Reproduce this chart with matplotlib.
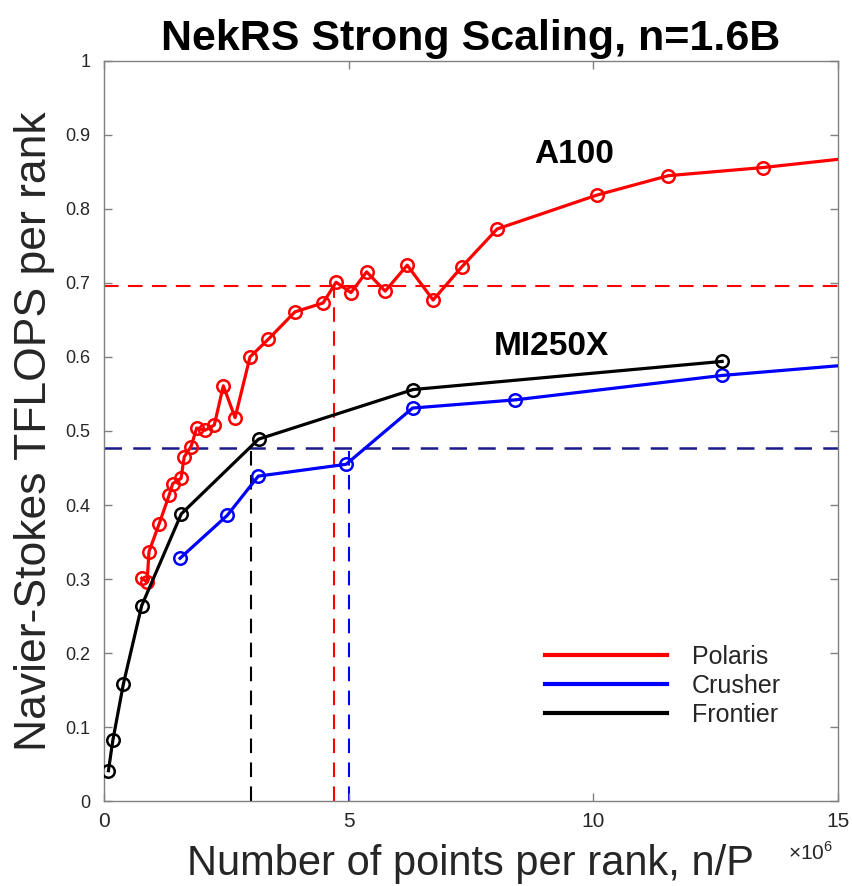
import matplotlib
matplotlib.use('Agg')
import matplotlib.pyplot as plt

plt.rcParams['font.family'] = ['Liberation Sans', 'DejaVu Sans']
plt.rcParams['mathtext.fontset'] = 'custom'
plt.rcParams['mathtext.rm'] = 'Liberation Sans'

# Polaris (A100)
polaris_x = [0.77, 0.88, 0.92, 1.13, 1.335, 1.405, 1.575, 1.64, 1.78, 1.895, 2.065, 2.255,
             2.44, 2.68, 2.985, 3.36, 3.905, 4.48, 4.745, 5.05, 5.37, 5.75, 6.2, 6.73,
             7.32, 8.04, 10.09, 11.54, 13.48, 16.8]
polaris_y = [0.301, 0.296, 0.337, 0.375, 0.414, 0.429, 0.436, 0.465, 0.479, 0.504, 0.501, 0.508,
             0.561, 0.518, 0.600, 0.624, 0.661, 0.673, 0.701, 0.687, 0.715, 0.689, 0.724, 0.677,
             0.722, 0.773, 0.819, 0.845, 0.856, 0.880]

# Crusher (MI250X)
crusher_x = [1.554, 2.52, 3.155, 4.95, 6.31, 8.4, 12.63, 16.8]
crusher_y = [0.328, 0.386, 0.439, 0.455, 0.531, 0.542, 0.575, 0.598]

# Frontier (MI250X)
frontier_x = [0.09, 0.18, 0.395, 0.77, 1.58, 3.16, 6.32, 12.64]
frontier_y = [0.041, 0.082, 0.158, 0.264, 0.388, 0.489, 0.556, 0.594]

# reference levels
polaris_ref = (4.7, 0.696)
crusher_ref = (5.0, 0.477)
frontier_ref = (3.0, 0.477)

fig = plt.figure(figsize=(8.52, 8.86), dpi=100)
ax = fig.add_axes([0.1221, 0.0959, 0.8609, 0.8353])

# dashed guides
dash = (0, (7, 4.5))
ax.axhline(polaris_ref[1], color='red', lw=1.5, ls=dash, zorder=1)
ax.plot([polaris_ref[0], polaris_ref[0]], [0, polaris_ref[1]], color='red', lw=1.5, ls=dash, zorder=1)
ax.axhline(crusher_ref[1], color='#1a1a8c', lw=1.8, ls=dash, zorder=1)
ax.plot([crusher_ref[0], crusher_ref[0]], [0, crusher_ref[1]], color='blue', lw=1.5, ls=dash, zorder=1)
ax.plot([frontier_ref[0], frontier_ref[0]], [0, frontier_ref[1]], color='black', lw=1.5, ls=dash, zorder=1)

mk = dict(marker='o', markersize=9, markerfacecolor='none', markeredgewidth=1.8, lw=2.3)
ax.plot(polaris_x, polaris_y, color='red', label='Polaris', zorder=3, **mk)
ax.plot(crusher_x, crusher_y, color='blue', label='Crusher', zorder=3, **mk)
ax.plot(frontier_x, frontier_y, color='black', label='Frontier', zorder=4, **mk)

ax.set_xlim(0, 15)
ax.set_ylim(0, 1)
ax.set_xticks([0, 5, 10, 15])
ax.set_yticks([i / 10 for i in range(11)])
ax.set_yticklabels(['0', '0.1', '0.2', '0.3', '0.4', '0.5', '0.6', '0.7', '0.8', '0.9', '1'])
ax.tick_params(direction='in', top=True, right=True, length=6, width=1, color='#808080',
               labelcolor='#262626', labelsize=13, pad=10)
ax.tick_params(axis='x', labelsize=15, pad=8)
for s in ax.spines.values():
    s.set_color('#808080')
    s.set_linewidth(1)

ax.set_title('NekRS Strong Scaling, n=1.6B', fontsize=31, fontweight='bold', pad=8)
ax.set_ylabel('Navier-Stokes TFLOPS per rank', fontsize=32, color='#262626', labelpad=7)
ax.set_xlabel('Number of points per rank, n/P', fontsize=30, color='#262626', labelpad=9)
fig.text(0.925, 0.030, r'$\times10^{6}$', fontsize=15, color='#262626')

ax.text(9.61, 0.873, 'A100', fontsize=24, fontweight='bold', ha='center', va='center')
ax.text(9.14, 0.614, 'MI250X', fontsize=24, fontweight='bold', ha='center', va='center')

leg = ax.legend(loc='lower left', bbox_to_anchor=(0.57, 0.07), frameon=False, fontsize=18,
                handlelength=4.9, handletextpad=1.0, labelspacing=0.2)
for h in leg.legend_handles:
    h.set_marker('')
    h.set_linewidth(3)
for t in leg.get_texts():
    t.set_color('#262626')

fig.savefig('out.png', dpi=100)
